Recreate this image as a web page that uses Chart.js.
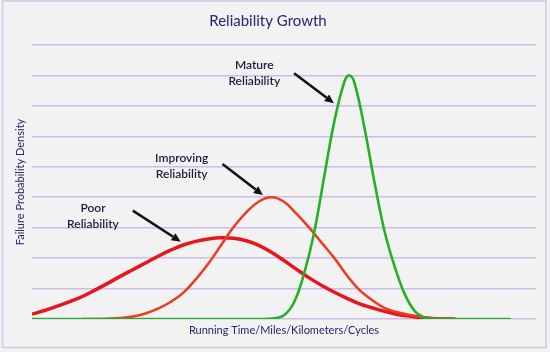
<!DOCTYPE html>
<html>
<head>
<meta charset="utf-8">
<title>Reliability Growth</title>
<script src="https://cdn.jsdelivr.net/npm/chart.js@4.4.1/dist/chart.umd.min.js"></script>
<style>
  html, body { margin: 0; padding: 0; background: #fafafa; }
</style>
</head>
<body>
<canvas id="chart" width="550" height="352"></canvas>
<script>
// values, x in arbitrary running-time units (0-100)
const poorX = [0, 2.5, 5, 7.5, 10, 12.5, 15, 17.5, 20, 22.5, 25, 27.5, 30, 32.5, 35, 37.5, 40, 42.5,
    45, 47.5, 50, 52.5, 55, 57.5, 60, 62.5, 65, 67.5, 70, 72.5, 75, 77.5, 80, 84];
const poorY = [0.16, 0.28, 0.42, 0.57, 0.74, 0.95, 1.17, 1.4, 1.62, 1.84, 2.06, 2.26, 2.43, 2.55, 2.63, 2.67, 2.65, 2.57,
    2.42, 2.19, 1.92, 1.63, 1.35, 1.1, 0.88, 0.68, 0.5, 0.37, 0.25, 0.15, 0.09, 0.04, 0.01, 0];

const improvingX = [10, 12.5, 15, 17.5, 20, 22.5, 25, 27.5, 30, 32.5, 35, 37.5, 40, 42.5, 45, 47.5, 50,
    52.5, 55, 57.5, 60, 62.5, 65, 67.5, 70, 72.5, 75, 77.5, 80, 84];
const improvingY = [0, 0, 0.01, 0.03, 0.08, 0.18, 0.34, 0.56, 0.86, 1.3, 1.82, 2.42, 3.02, 3.5, 3.86, 4.0, 3.85,
    3.45, 3.0, 2.5, 2.0, 1.43, 0.95, 0.62, 0.36, 0.22, 0.13, 0.06, 0.02, 0];

const matureX = [0, 46, 48, 50, 52, 54, 56, 58, 60, 62, 63, 64, 66, 68, 70, 72, 74, 76, 78, 80, 95];
const matureY = [0, 0, 0.02, 0.12, 0.55, 1.5, 2.85, 4.7, 6.5, 7.8, 8.0, 7.75, 6.25, 4.45, 2.85, 1.7, 0.8, 0.25, 0.04, 0, 0];

// callouts: text, first-line centre, arrow start and tip (data units)
const noteLines = [['Mature', 'Reliability'], ['Improving', 'Reliability'], ['Poor', 'Reliability']];
const noteAt = [[44.1, 8.34], [29.7, 5.28], [12.1, 3.64]];
const arrowFrom = [[52.0, 8.07], [37.8, 5.09], [20.0, 3.56]];
const arrowTo = [[59.9, 7.09], [45.8, 4.07], [29.5, 2.54]];

const navy = '#24246e';

const toPoints = (xs, ys) => xs.map((x, i) => ({ x, y: ys[i] }));

function drawArrow(ctx, x1, y1, x2, y2) {
    const ang = Math.atan2(y2 - y1, x2 - x1);
    const head = 9, half = 4.2;
    const bx = x2 - head * Math.cos(ang);
    const by = y2 - head * Math.sin(ang);
    ctx.beginPath();
    ctx.moveTo(x1, y1);
    ctx.lineTo(bx, by);
    ctx.lineWidth = 2.5;
    ctx.stroke();
    ctx.beginPath();
    ctx.moveTo(x2, y2);
    ctx.lineTo(bx - half * Math.sin(ang), by + half * Math.cos(ang));
    ctx.lineTo(bx + half * Math.sin(ang), by - half * Math.cos(ang));
    ctx.closePath();
    ctx.fill();
}

const frame = {
    id: 'frame',
    beforeDraw(chart) {
        const ctx = chart.ctx;
        ctx.save();
        ctx.fillStyle = '#f2f2f2';
        ctx.fillRect(0, 0, chart.width, chart.height);
        ctx.strokeStyle = '#cbcbe6';
        ctx.lineWidth = 1.5;
        ctx.strokeRect(2.5, 1, 543.5, 346.5);
        ctx.restore();
    }
};

const callouts = {
    id: 'callouts',
    afterDatasetsDraw(chart) {
        const { ctx, scales: { x, y } } = chart;
        ctx.save();
        ctx.font = '600 12px Lato';
        ctx.fillStyle = '#1c1c3e';
        ctx.textAlign = 'center';
        ctx.textBaseline = 'middle';
        noteLines.forEach((lines, i) => {
            const px = x.getPixelForValue(noteAt[i][0]);
            const py = y.getPixelForValue(noteAt[i][1]);
            lines.forEach((t, k) => ctx.fillText(t, px, py + k * 16));
        });
        ctx.strokeStyle = '#111';
        ctx.fillStyle = '#111';
        arrowFrom.forEach((a, i) => {
            drawArrow(ctx,
                x.getPixelForValue(a[0]), y.getPixelForValue(a[1]),
                x.getPixelForValue(arrowTo[i][0]), y.getPixelForValue(arrowTo[i][1]));
        });
        ctx.restore();
    }
};

new Chart(document.getElementById('chart'), {
    type: 'line',
    data: {
        datasets: [
            {
                label: 'Poor Reliability',
                data: toPoints(poorX, poorY),
                borderColor: '#e8161c',
                borderWidth: 3.5,
                order: 3
            },
            {
                label: 'Improving Reliability',
                data: toPoints(improvingX, improvingY),
                borderColor: '#ec3b1e',
                borderWidth: 2.5,
                order: 2
            },
            {
                label: 'Mature Reliability',
                data: toPoints(matureX, matureY),
                borderColor: '#25b025',
                borderWidth: 2.6,
                order: 1
            }
        ]
    },
    options: {
        responsive: false,
        animation: false,
        layout: { padding: { left: 0, right: 14, top: 0, bottom: 0 }, autoPadding: false },
        elements: {
            point: { radius: 0 },
            line: { tension: 0.4, fill: false }
        },
        plugins: {
            legend: { display: false },
            tooltip: { enabled: false },
            title: {
                display: true,
                text: 'Reliability Growth',
                color: navy,
                font: { family: 'Lato', size: 15, weight: 'normal' },
                padding: { top: 12, bottom: 15 }
            }
        },
        scales: {
            x: {
                type: 'linear',
                min: 0,
                max: 100,
                grid: { display: false },
                border: { display: false },
                ticks: { display: false },
                title: {
                    display: true,
                    text: 'Running Time/Miles/Kilometers/Cycles',
                    color: navy,
                    font: { family: 'Lato', size: 11 },
                    padding: { top: 0, bottom: 15 }
                },
                afterFit: s => { s.height = 33; }
            },
            y: {
                min: 0,
                max: 9,
                ticks: { display: false, stepSize: 1 },
                grid: { color: '#cdbbea', lineWidth: 1.5, drawTicks: false },
                border: { display: false },
                title: {
                    display: true,
                    text: 'Failure Probability Density',
                    color: navy,
                    font: { family: 'Lato', size: 11 },
                    padding: { top: 14, bottom: 0 }
                },
                afterFit: s => { s.width = 32; }
            }
        }
    },
    plugins: [frame, callouts]
});
</script>
</body>
</html>
